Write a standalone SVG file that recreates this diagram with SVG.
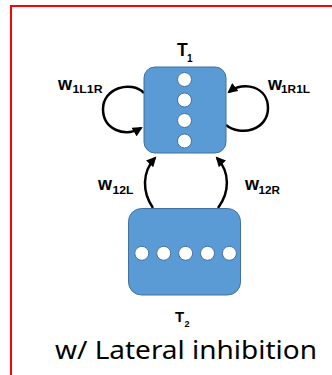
<svg xmlns="http://www.w3.org/2000/svg" width="332" height="375" viewBox="0 0 332 375">
  <style>
    .box { fill: #5B9BD5; stroke: #41719C; stroke-width: 1; }
    .unit { fill: #FFFFFF; stroke: #41719C; stroke-width: 1; }
    .edge { fill: none; stroke: #000000; stroke-width: 2.5; marker-end: url(#head); }
    .lbl { font-family: "Liberation Sans", Arial, sans-serif; font-weight: bold; fill: #000000; }
    .caption { font-family: "Noto Sans", "Open Sans", sans-serif; font-size: 24.5px; fill: #000000; }
  </style>
  <defs>
    <marker id="head" viewBox="0 0 10 10" refX="8" refY="5" markerWidth="4.2" markerHeight="4" orient="auto" markerUnits="strokeWidth">
      <path d="M0,0 L10,5 L0,10 Z" fill="#000000"/>
    </marker>
  </defs>

  <!-- frame -->
  <path d="M11,375 V6 H332" fill="none" stroke="#FF0000" stroke-width="2"/>

  <!-- connectors -->
  <g id="connectors">
    <path class="edge" d="M144,93 C131,80 103,88 103,109 C103,129 124,138 141,128"/>
    <path class="edge" d="M226,125 C241,137 268,130 268,108 C268,87 244,80 229,92"/>
    <path class="edge" d="M153,208 C142,192 142,172 155,158"/>
    <path class="edge" d="M218,208 C230,192 230,172 217,158"/>
    <text class="lbl" x="58" y="89.5" font-size="18">w</text>
    <text class="lbl" x="72.5" y="92.5" font-size="10" textLength="30" lengthAdjust="spacingAndGlyphs">1L1R</text>
    <text class="lbl" x="268" y="90" font-size="18">w</text>
    <text class="lbl" x="281" y="93" font-size="10" textLength="29" lengthAdjust="spacingAndGlyphs">1R1L</text>
    <text class="lbl" x="98" y="190" font-size="18">w</text>
    <text class="lbl" x="112.5" y="193.5" font-size="10" textLength="21" lengthAdjust="spacingAndGlyphs">12L</text>
    <text class="lbl" x="245" y="190" font-size="18">w</text>
    <text class="lbl" x="258.5" y="193.5" font-size="10" textLength="21.5" lengthAdjust="spacingAndGlyphs">12R</text>
  </g>

  <!-- upper layer -->
  <g id="T1">
    <rect class="box" x="144" y="67" width="82" height="86" rx="11"/>
    <circle class="unit" cx="184.5" cy="79.5" r="7"/>
    <circle class="unit" cx="184.5" cy="100" r="7"/>
    <circle class="unit" cx="184.5" cy="120.5" r="7"/>
    <circle class="unit" cx="184.5" cy="141" r="7"/>
    <text class="lbl" x="177" y="56" font-size="17.5">T</text>
    <text class="lbl" x="187" y="61.5" font-size="10">1</text>
  </g>

  <!-- lower layer -->
  <g id="T2">
    <rect class="box" x="128.5" y="208.5" width="112" height="86.5" rx="13"/>
    <circle class="unit" cx="141.8" cy="253.3" r="7"/>
    <circle class="unit" cx="163.7" cy="253.3" r="7"/>
    <circle class="unit" cx="185.6" cy="253.3" r="7"/>
    <circle class="unit" cx="207.5" cy="253.3" r="7"/>
    <circle class="unit" cx="229.4" cy="253.3" r="7"/>
    <text class="lbl" x="175" y="321.7" font-size="15">T</text>
    <text class="lbl" x="184.5" y="327" font-size="9">2</text>
  </g>

  <text class="caption" x="55" y="359.3" textLength="262" lengthAdjust="spacingAndGlyphs">w/ Lateral inhibition</text>
</svg>
